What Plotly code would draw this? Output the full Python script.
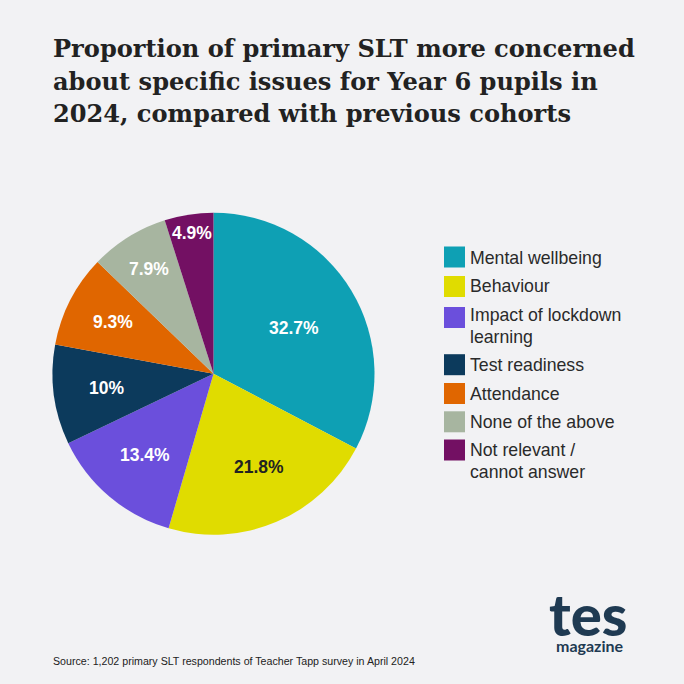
import math
import plotly.graph_objects as go

categories = ['Mental wellbeing', 'Behaviour', 'Impact of lockdown<br>learning', 'Test readiness',
              'Attendance', 'None of the above', 'Not relevant /<br>cannot answer']
values = [32.7, 21.8, 13.4, 10, 9.3, 7.9, 4.9]
colors = ['#0ea0b4', '#e0dc00', '#6b4fdc', '#0c3a5c', '#e06600', '#a7b5a0', '#731063']
label_colors = ['white', '#222222', 'white', 'white', 'white', 'white', 'white']
title_lines = ['Proportion of primary SLT more concerned',
               'about specific issues for Year 6 pupils in',
               '2024, compared with previous cohorts']
source = 'Source: 1,202 primary SLT respondents of Teacher Tapp survey in April 2024'

W = 684
fig = go.Figure()
fig.add_trace(go.Pie(
    labels=categories,
    values=values,
    sort=False,
    direction='clockwise',
    rotation=0,
    marker=dict(colors=colors, line=dict(width=0)),
    textinfo='none',
    domain=dict(x=[52.5/W, 374.5/W], y=[1-534.7/W, 1-212.7/W]),
    showlegend=False,
    hoverinfo='label+value',
))


def px_x(x):
    return x / W


def px_y(y):
    return 1 - y / W


# slice labels sit at the mid angle, plotly's own inside placement drifts too far
cx, cy = 214, 374
label_r = [92, 103, 106, 108, 113, 124, 143]
label_nudge = [1, -3, 0, 0, 0, 0, 0]
total = sum(values)
cum = 0
for v, col, r, nudge in zip(values, label_colors, label_r, label_nudge):
    ang = math.radians((cum + v/2) / total * 360 + nudge)
    cum += v
    fig.add_annotation(x=px_x(cx + r*math.sin(ang)), y=px_y(cy - r*math.cos(ang)),
                       xref='paper', yref='paper', text=f'{v}%', showarrow=False,
                       xanchor='center', yanchor='middle',
                       font=dict(family='Liberation Sans', size=17.5, color=col, weight='bold'))

# legend drawn by hand, the native swatches are too small
text_y = [257.5, 286, 315, 364.7, 393.5, 422, 450]
swatch_y = [257, 286.5, 317.5, 364.7, 393.5, 421.8, 450]
for name, col, ty, sy in zip(categories, colors, text_y, swatch_y):
    fig.add_shape(type='rect', xref='paper', yref='paper',
                  x0=px_x(444), x1=px_x(465), y0=px_y(sy-10.5), y1=px_y(sy+10.5),
                  fillcolor=col, line=dict(width=0))
    for i, part in enumerate(name.split('<br>')):
        fig.add_annotation(x=px_x(468), y=px_y(ty + i*21.7), xref='paper', yref='paper', text=part,
                           xanchor='left', yanchor='middle', showarrow=False, align='left',
                           font=dict(family='Liberation Sans', size=17.7, color='#2a2a2a'))

for i, line in enumerate(title_lines):
    fig.add_annotation(x=px_x(51), y=px_y(48 + i*33), xref='paper', yref='paper', text=line,
                       xanchor='left', yanchor='middle', showarrow=False,
                       font=dict(family='DejaVu Serif', size=24.1, color='#222222', weight='bold'))

fig.add_annotation(x=px_x(51), y=px_y(661), xref='paper', yref='paper', text=source,
                   xanchor='left', yanchor='middle', showarrow=False,
                   font=dict(family='Liberation Sans', size=10.65, color='#222222'))

# logo
fig.add_annotation(x=px_x(588), y=px_y(613), xref='paper', yref='paper', text='tes',
                   xanchor='center', yanchor='middle', showarrow=False,
                   font=dict(family='Lato', size=58, color='#1f3a52', weight=900))
fig.add_annotation(x=px_x(590), y=px_y(645), xref='paper', yref='paper', text='magazine',
                   xanchor='center', yanchor='middle', showarrow=False,
                   font=dict(family='Lato', size=16, color='#1f3a52', weight='bold'))

fig.update_layout(width=W, height=W, margin=dict(l=0, r=0, t=0, b=0),
                  paper_bgcolor='#f2f2f4', plot_bgcolor='#f2f2f4')
fig.write_html("out.html", config=dict(displayModeBar=False),
               post_script="document.body.style.margin='0';")
